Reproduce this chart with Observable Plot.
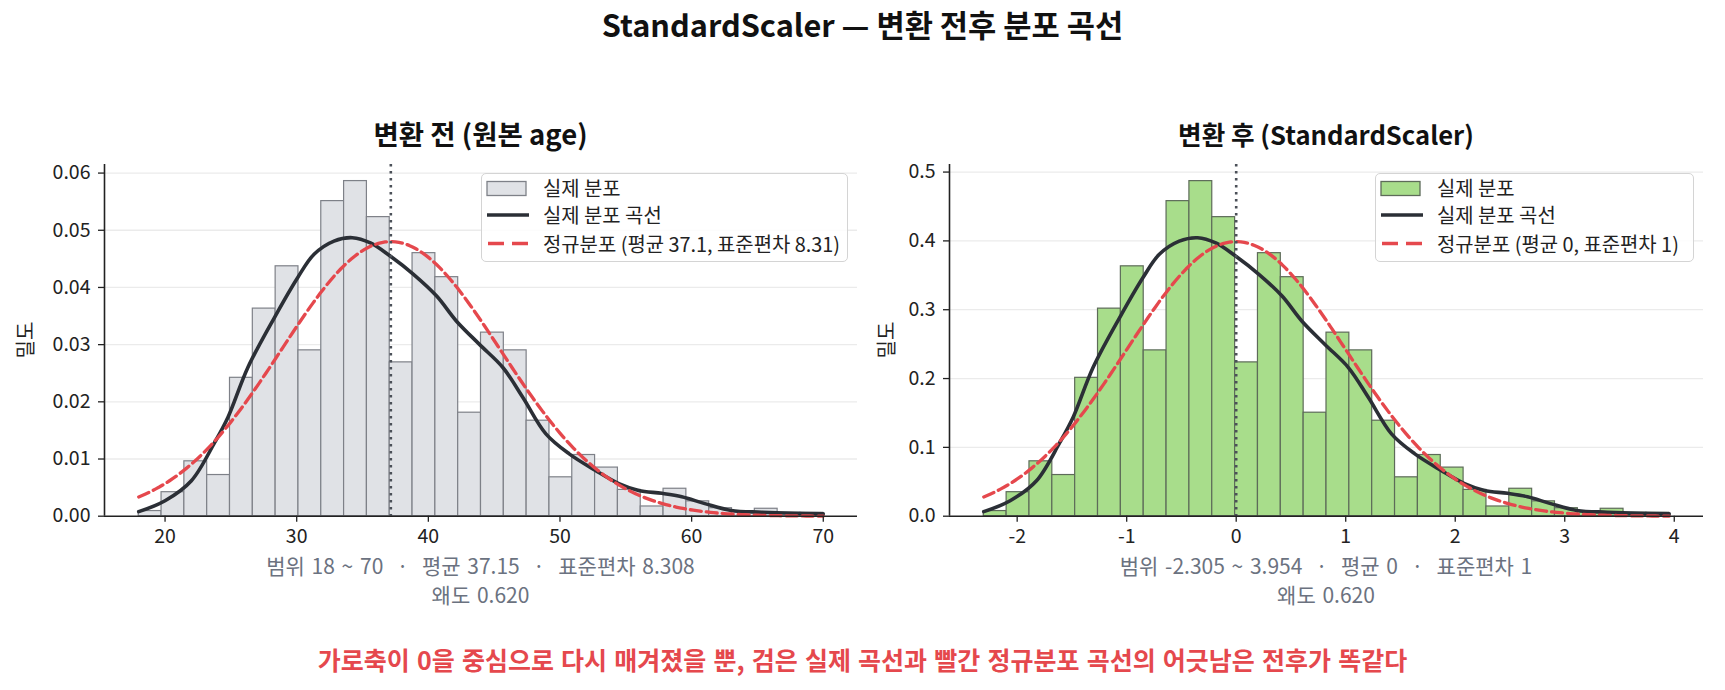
<!DOCTYPE html>
<html><head><meta charset="utf-8">
<script src="https://cdn.jsdelivr.net/npm/d3@7"></script>
<script src="https://cdn.jsdelivr.net/npm/@observablehq/plot@0.6"></script>
<style>
body{margin:0;background:#fff;font-family:"Noto Sans CJK KR","Noto Sans",sans-serif;}
#wrap{position:relative;width:1725px;height:690px;overflow:hidden;background:#fff;}
.t{position:absolute;transform:translate(-50%,-50%);white-space:pre;line-height:1;}
.plotbox{position:absolute;}
.legend{position:absolute;border:1.5px solid #d4d4d4;border-radius:5px;background:rgba(255,255,255,0.85);box-sizing:border-box;}
.legend .lab{position:absolute;white-space:pre;font-size:19.9px;color:#222;line-height:1;transform:translateY(-50%);}
</style></head>
<body><div id="wrap"></div>
<script>
// ---- data ----
const ageMin = 18, ageMax = 70;
const ageMean = 37.15, ageStd = 8.308, ageSkew = 0.620;
const binCount = 30;
const ageBinDensity = [0.0009,0.0042,0.0096,0.0072,0.0242,0.0363,0.0437,0.0290,0.0551,0.0586,
  0.0523,0.0269,0.0460,0.0418,0.0181,0.0321,0.0290,0.0167,0.0068,0.0107,
  0.0085,0.0046,0.0017,0.0048,0.0026,0.0014,0.0007,0.0013,0.0006,0.0006];
const kdeAge = [18,20,22,23.77,24.78,26.29,28.3,30.07,31.32,32.83,34.22,35.6,37.1,38.87,40.63,42.14,43.9,45.66,47.17,48.93,50.7,52.7,54.47,55.98,57.74,59.25,61.0,63.0,65.3,67.8,70];
const kdeDensity = [0.0008,0.0027,0.0062,0.0129,0.0173,0.0260,0.0347,0.0417,0.0458,0.0481,0.0487,0.0478,0.0455,0.0423,0.0385,0.0341,0.0300,0.0260,0.0208,0.0144,0.0109,0.0080,0.0057,0.0045,0.0040,0.0034,0.0022,0.0010,0.0007,0.0005,0.0004];
const leftXTicks = [20,30,40,50,60,70];
const rightXTicks = [-2,-1,0,1,2,3,4];
const leftYTicks = [0,0.01,0.02,0.03,0.04,0.05,0.06];
const rightYTicks = [0,0.1,0.2,0.3,0.4,0.5];
const legendLabels = {
  hist: "실제 분포",
  kde: "실제 분포 곡선",
  normLeft: "정규분포 (평균 37.1, 표준편차 8.31)",
  normRight: "정규분포 (평균 0, 표준편차 1)"
};
const titles = {
  main: "StandardScaler — 변환 전후 분포 곡선",
  left: "변환 전 (원본 age)",
  right: "변환 후 (StandardScaler)",
  yLabel: "밀도",
  statsLeft1: "범위 18 ~ 70  ·  평균 37.15  ·  표준편차 8.308",
  statsRight1: "범위 -2.305 ~ 3.954  ·  평균 0  ·  표준편차 1",
  stats2: "왜도 0.620",
  footer: "가로축이 0을 중심으로 다시 매겨졌을 뿐, 검은 실제 곡선과 빨간 정규분포 곡선의 어긋남은 전후가 똑같다"
};
const colors = {grayFill:"#e0e2e6", grayEdge:"#7e8188", greenFill:"#a8dd8b", greenEdge:"#5d6b59",
  kde:"#2b2f36", norm:"#e5484d", mean:"#4b5058", axis:"#222", grid:"#ebebeb", stats:"#6b7280"};

// ---- derived tables ----
const binW = (ageMax - ageMin) / binCount;
const leftBins = ageBinDensity.map((d,i)=>({x1: ageMin + i*binW, x2: ageMin + (i+1)*binW, y: d}));
const toZ = a => (a - ageMean) / ageStd;
const rightBins = leftBins.map(b=>({x1: toZ(b.x1), x2: toZ(b.x2), y: b.y*ageStd}));
const leftKde = kdeAge.map((a,i)=>({x:a, y:kdeDensity[i]}));
const rightKde = leftKde.map(p=>({x: toZ(p.x), y: p.y*ageStd}));
const pdf = (x,m,s) => Math.exp(-0.5*((x-m)/s)**2)/(s*Math.sqrt(2*Math.PI));
const normPts = (lo,hi,m,s) => d3.range(0,201).map(k=>{const x=lo+(hi-lo)*k/200; return {x, y: pdf(x,m,s)};});
const leftNorm = normPts(ageMin, ageMax, ageMean, ageStd);
const zMin = toZ(ageMin), zMax = toZ(ageMax);
const rightNorm = normPts(zMin, zMax, 0, 1);
const pad = (lo,hi)=>[lo-(hi-lo)*0.05, hi+(hi-lo)*0.05];

const FONT = '"Noto Sans CJK KR","Noto Sans",sans-serif';
function panel(o){
  return Plot.plot({
    width:o.width, height:420, marginTop:24, marginBottom:44.3, marginLeft:o.ml, marginRight:o.mr,
    x:{domain:o.xDomain}, y:{domain:o.yDomain},
    style:{fontFamily:FONT, fontSize:"19.5px", color:colors.axis, background:"transparent", overflow:"visible"},
    marks:[
      Plot.gridY(o.yTicks.slice(1), {stroke:colors.grid, strokeOpacity:1, strokeWidth:1.3}),
      Plot.rectY(o.bins, {x1:"x1", x2:"x2", y:"y", fill:o.fill, stroke:o.edge, strokeWidth:1.2}),
      Plot.line(o.kde, {x:"x", y:"y", stroke:colors.kde, strokeWidth:3.6, curve:"catmull-rom"}),
      Plot.line(o.norm, {x:"x", y:"y", stroke:colors.norm, strokeWidth:3.3, strokeDasharray:"11,5"}),
      Plot.ruleX([o.mean], {stroke:colors.mean, strokeWidth:2.6, strokeDasharray:"2.6,4.4"}),
      Plot.axisY({ticks:o.yTicks, tickFormat:o.yFmt, tickSize:6, tickPadding:8, label:null, strokeWidth:1.3}),
      Plot.axisX({ticks:o.xTicks, tickFormat:d=>String(d), tickSize:6, tickPadding:7, label:null, strokeWidth:1.3}),
      Plot.ruleX([o.xDomain[0]], {stroke:colors.axis, strokeWidth:1.6}),
      Plot.ruleY([0], {stroke:colors.axis, strokeWidth:1.6})
    ]
  });
}

const wrap = document.getElementById("wrap");
function addText(txt, x, y, css){
  const d=document.createElement("div"); d.className="t"; d.textContent=txt;
  d.style.left=x+"px"; d.style.top=y+"px"; Object.assign(d.style, css||{}); wrap.appendChild(d); return d;
}
function addPlot(svg, left, top){
  const d=document.createElement("div"); d.className="plotbox"; d.style.left=left+"px"; d.style.top=top+"px";
  d.appendChild(svg); wrap.appendChild(d);
}
function addLegend(left, top, width, fill, edge, normLabel){
  const L=document.createElement("div"); L.className="legend";
  Object.assign(L.style,{left:left+"px", top:top+"px", width:width+"px", height:"89px"});
  const ns="http://www.w3.org/2000/svg";
  const s=document.createElementNS(ns,"svg"); s.setAttribute("width",60); s.setAttribute("height",86);
  s.style.position="absolute"; s.style.left="0px"; s.style.top="0px";
  s.innerHTML = `<rect x="5" y="7.5" width="39" height="14" fill="${fill}" stroke="${edge}" stroke-width="1.3"/>
    <line x1="5" x2="47" y1="41" y2="41" stroke="${colors.kde}" stroke-width="3.6"/>
    <line x1="6" x2="47" y1="69.5" y2="69.5" stroke="${colors.norm}" stroke-width="3.3" stroke-dasharray="16,8"/>`;
  L.appendChild(s);
  [[legendLabels.hist,14.5],[legendLabels.kde,41.5],[normLabel,70]].forEach(([t,y])=>{
    const e=document.createElement("div"); e.className="lab"; e.textContent=t;
    e.style.left="61px"; e.style.top=y+"px"; L.appendChild(e);
  });
  wrap.appendChild(L);
}

// titles
addText(titles.main, 862.5, 24, {fontSize:"30.7px", fontWeight:"700", color:"#111"});
addText(titles.left, 480.5, 134, {fontSize:"27.5px", fontWeight:"700", color:"#111"});
addText(titles.right, 1326, 134, {fontSize:"25.6px", fontWeight:"700", color:"#111"});

// panels
addPlot(panel({width:870, ml:104, mr:13, xDomain:pad(ageMin,ageMax), yDomain:[0,0.0615],
  yTicks:leftYTicks, yFmt:d3.format(".2f"), xTicks:leftXTicks, bins:leftBins, kde:leftKde, norm:leftNorm,
  mean:ageMean, fill:colors.grayFill, edge:colors.grayEdge}), 0, 140);
addPlot(panel({width:863, ml:87, mr:22, xDomain:pad(zMin,zMax), yDomain:[0,0.511],
  yTicks:rightYTicks, yFmt:d3.format(".1f"), xTicks:rightXTicks, bins:rightBins, kde:rightKde, norm:rightNorm,
  mean:0, fill:colors.greenFill, edge:colors.greenEdge}), 862, 140);

// y labels
addText(titles.yLabel, 25, 340, {fontSize:"20px", color:"#222", transform:"translate(-50%,-50%) rotate(-90deg)"});
addText(titles.yLabel, 886, 340, {fontSize:"20px", color:"#222", transform:"translate(-50%,-50%) rotate(-90deg)"});

// legends
addLegend(481, 172.7, 367, colors.grayFill, colors.grayEdge, legendLabels.normLeft);
addLegend(1375, 172.7, 318.5, colors.greenFill, colors.greenEdge, legendLabels.normRight);

// stats
const statCss = {fontSize:"21px", color:colors.stats, wordSpacing:"2px"};
addText(titles.statsLeft1, 480.5, 565, statCss);
addText(titles.stats2, 480.5, 594, statCss);
addText(titles.statsRight1, 1326, 565, statCss);
addText(titles.stats2, 1326, 594, statCss);

// footer
addText(titles.footer, 862.5, 659, {fontSize:"25px", fontWeight:"700", color:colors.norm, wordSpacing:"1.5px"});
</script></body></html>
